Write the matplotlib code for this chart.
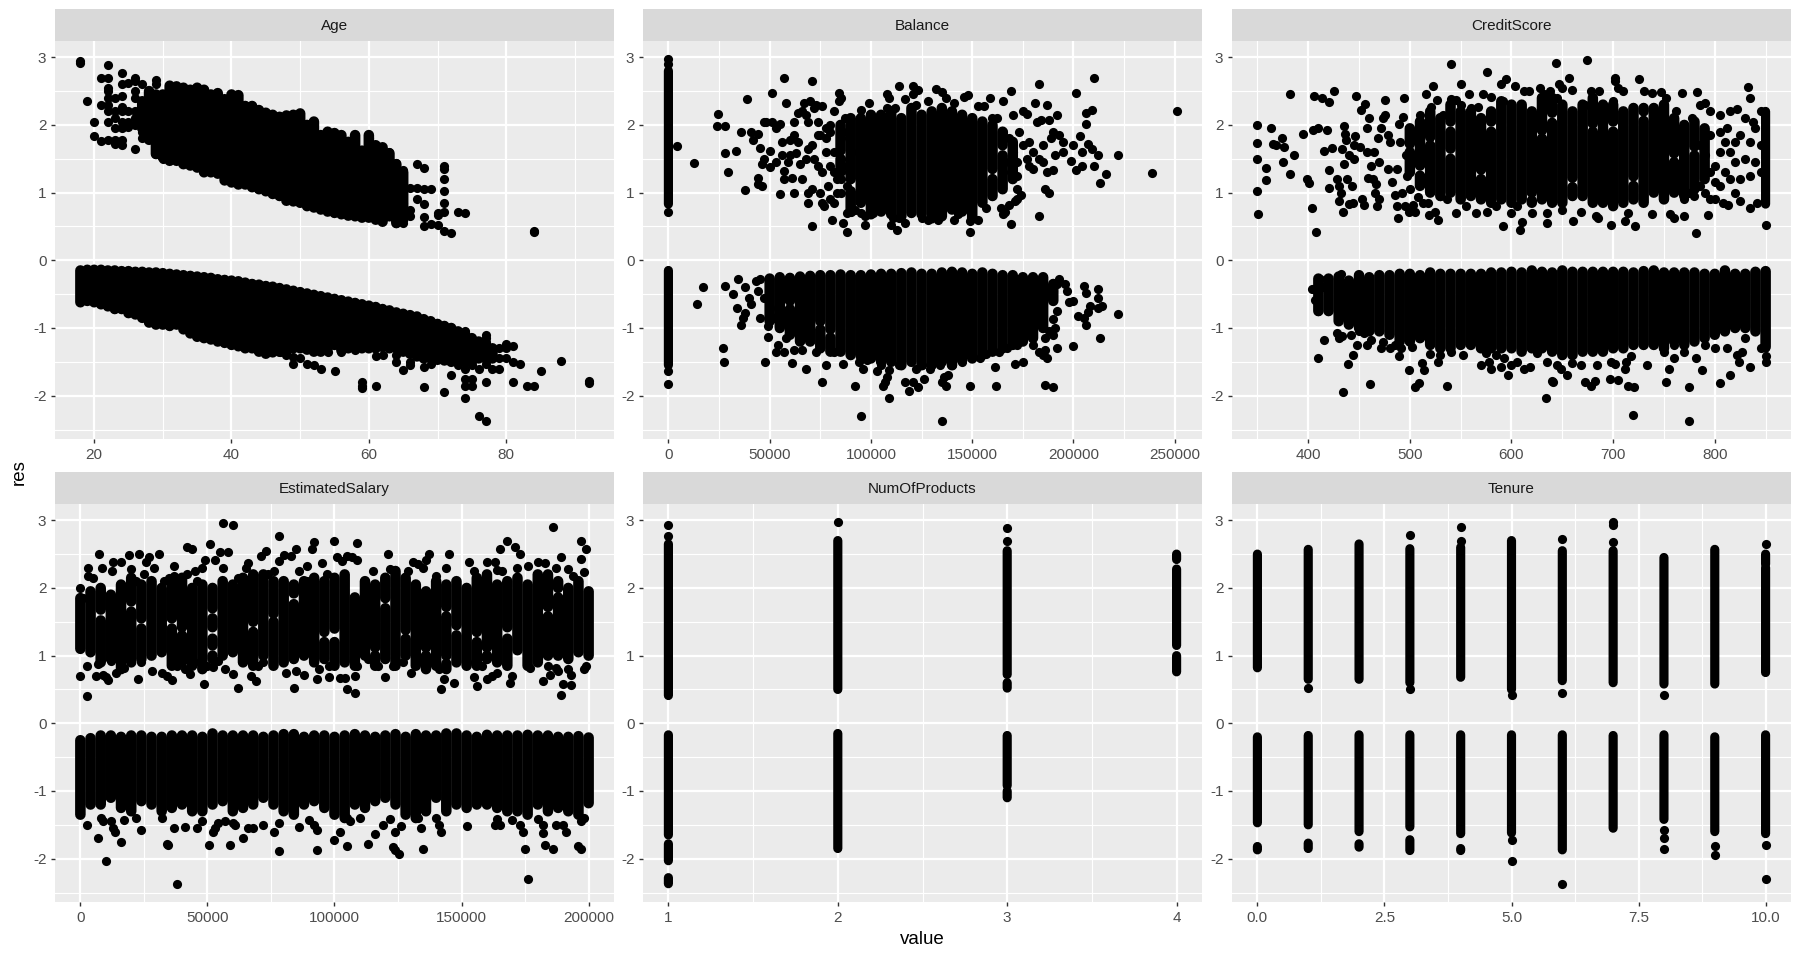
import matplotlib
matplotlib.use("Agg")
import matplotlib.pyplot as plt

plt.rcParams['font.family'] = ['Liberation Sans', 'DejaVu Sans']

# Values. The overplotted black masses can't be told apart
# as single points, so they are kept as columns of stacked points (x, top, bottom)
# with the visible holes listed as gaps; the rest are listed one by one.

panel_names = ["Age", "Balance", "CreditScore", "EstimatedSalary", "NumOfProducts", "Tenure"]

# ---- Age
age_up_x = list(range(27, 66))
age_up_hi = [2.35, 2.5, 2.45, 2.45, 2.58, 2.57, 2.55, 2.52, 2.55, 2.52, 2.45, 2.47, 2.38, 2.45, 2.44, 2.28, 2.28, 2.22,
             2.18, 2.15, 2.12, 2.14, 2.15, 2.17, 2.0, 2.05, 1.85, 1.9, 1.88, 1.85, 1.75, 1.85, 1.62, 1.85, 1.7, 1.67,
             1.58, 1.42, 1.3]
age_up_lo = [1.95, 1.78, 1.57, 1.52, 1.47, 1.47, 1.42, 1.4, 1.37, 1.3, 1.3, 1.28, 1.18, 1.15, 1.12, 1.12, 1.08, 1.05,
             1.02, 0.98, 0.95, 0.88, 0.87, 0.85, 0.8, 0.78, 0.75, 0.72, 0.7, 0.68, 0.66, 0.65, 0.63, 0.63, 0.6, 0.57,
             0.65, 0.55, 0.6]
age_up_gaps = [(29, 2.37, 2.43), (27, 2.17, 2.23), (27, 1.97, 2.03), (31, 1.77, 1.83), (30, 1.57, 1.63), (32, 1.53, 1.59),
               (35, 1.43, 1.49), (36, 1.4, 1.46), (41, 1.21, 1.27), (52, 1.58, 1.7), (59, 1.38, 1.46), (59, 1.12, 1.22),
               (50, 0.95, 1.01), (57, 0.99, 1.05), (49, 1.49, 1.55), (60, 0.7, 0.76), (62, 0.67, 0.73), (53, 0.9, 0.96)]
age_low_x = list(range(18, 79))
age_low_hi = [-0.15, -0.14, -0.14, -0.14, -0.15, -0.15, -0.16, -0.16, -0.17, -0.17, -0.18, -0.18, -0.19, -0.2, -0.21,
              -0.22, -0.23, -0.24, -0.25, -0.26, -0.28, -0.29, -0.3, -0.31, -0.33, -0.35, -0.36, -0.38, -0.39, -0.41,
              -0.43, -0.45, -0.47, -0.49, -0.51, -0.53, -0.55, -0.57, -0.59, -0.61, -0.63, -0.65, -0.67, -0.69, -0.72,
              -0.74, -0.77, -0.79, -0.81, -0.83, -0.87, -0.9, -0.94, -0.97, -1.0, -1.05, -1.08, -1.15, -1.2, -1.25, -1.3]
age_low_lo = [-0.62, -0.6, -0.62, -0.65, -0.68, -0.72, -0.72, -0.78, -0.8, -0.85, -0.92, -0.95, -0.95, -0.97, -0.95,
              -1.02, -1.08, -1.13, -1.15, -1.17, -1.2, -1.22, -1.25, -1.27, -1.3, -1.3, -1.35, -1.38, -1.36, -1.35,
              -1.35, -1.3, -1.3, -1.32, -1.35, -1.35, -1.3, -1.25, -1.33, -1.3, -1.3, -1.3, -1.3, -1.3, -1.28, -1.3,
              -1.3, -1.35, -1.38, -1.42, -1.45, -1.45, -1.47, -1.48, -1.5, -1.5, -1.5, -1.5, -1.45, -1.45, -1.45]
age_low_gaps = [(56, -1.01, -0.95), (57, -1.13, -1.07), (59, -1.23, -1.17), (54, -1.23, -1.17), (60, -0.99, -0.93),
                (68, -1.21, -1.15), (45, -1.23, -1.17), (40, -1.06, -1.0)]
age_pts = [(18, 2.95), (18, 2.92), (22, 2.89), (24, 2.77), (21, 2.7), (22, 2.7), (26, 2.7), (26, 2.65), (29, 2.67),
           (29, 2.6), (22, 2.55), (22, 2.5), (24, 2.6), (25, 2.62), (27, 2.6), (28, 2.5), (26, 2.5), (26, 2.4),
           (22, 2.4), (23, 2.4), (24, 2.43), (19, 2.35), (21, 2.3), (22, 2.3), (22, 2.2), (24, 2.27), (24, 2.2),
           (23, 2.2), (25, 2.2), (20, 2.05), (22, 2.05), (23, 2.1), (24, 2.05), (25, 2.05), (26, 2.1), (23, 1.95),
           (24, 1.95), (25, 1.97), (20, 1.83), (21, 1.77), (22, 1.78), (23, 1.78), (24, 1.78), (23, 1.72), (24, 1.7),
           (26, 1.64), (27, 1.8), (27, 1.9), (26, 2.2), (26, 2.0), (28, 2.2), (29, 1.57), (30, 1.5),
           (60, 1.8), (60, 1.72), (63, 1.6), (64, 1.44), (65, 1.33), (67, 1.42), (68, 1.37), (71, 1.4),
           (71, 1.35), (71, 1.2), (71, 1.03), (69, 1.05), (68, 1.05), (67, 1.07), (66, 1.07), (65, 1.07), (71, 0.85),
           (68, 0.83), (67, 0.9), (66, 0.75), (66, 0.65), (65, 0.85), (65, 0.55), (64, 0.55), (68, 0.64), (68, 0.5),
           (69, 0.53), (70, 0.52), (71, 0.44), (72, 0.41), (70, 0.67), (70, 0.7), (71, 0.71), (73, 0.72), (74, 0.7),
           (84, 0.42), (84, 0.43),
           (74, -1.05), (77, -1.1), (77, -1.15), (77, -1.2), (77, -1.25), (80, -1.23), (81, -1.27), (79, -1.3),
           (80, -1.3), (78, -1.35), (79, -1.45), (80, -1.45), (81, -1.5), (82, -1.53), (88, -1.49), (85, -1.63),
           (92, -1.78), (92, -1.82), (81, -1.8), (83, -1.86), (84, -1.86), (77, -1.8), (75, -1.75), (75, -1.85),
           (74, -1.75), (74, -1.85), (74, -2.03), (72, -1.7), (71, -1.94), (68, -1.87), (61, -1.85), (59, -1.8),
           (59, -1.85), (59, -1.88), (76, -2.3), (77, -2.37), (55, -1.63), (53, -1.6), (52, -1.55), (51, -1.53),
           (49, -1.53), (49, -1.43), (50, -1.45), (48, -1.4), (47, -1.35), (54, -1.35), (56, -1.35), (58, -1.33),
           (61, -1.42), (62, -1.4), (64, -1.5), (64, -1.4), (65, -1.62), (66, -1.5), (66, -1.55), (68, -1.57),
           (69, -1.53), (73, -1.55), (74, -1.6), (75, -1.55), (76, -1.6), (77, -1.53), (78, -1.6), (79, -1.6)]

# ---- Balance (x in thousands)
bal_up_x = [85, 90, 95, 100, 105, 110, 115, 120, 125, 130, 135, 140, 145, 150, 155, 160, 165, 170]
bal_up_hi = [2.0, 2.1, 2.1, 2.15, 2.15, 2.2, 2.1, 2.25, 2.15, 2.2, 2.25, 2.2, 2.15, 2.1, 2.05, 2.0, 1.9, 1.75]
bal_up_lo = [1.3, 0.72, 0.85, 0.68, 0.72, 0.68, 0.65, 0.7, 0.68, 0.62, 0.65, 0.75, 0.72, 0.62, 0.85, 0.95, 1.05, 1.2]
bal_up_gaps = [(90, 1.02, 1.2), (85, 1.5, 1.62), (160, 1.2, 1.35), (165, 1.55, 1.7)]
bal_low_x = [50, 55, 60, 65, 70, 75, 80, 85, 90, 95, 100, 105, 110, 115, 120, 125, 130, 135, 140, 145, 150, 155, 160,
             165, 170, 175, 180, 185, 190]
bal_low_hi = [-0.27, -0.25, -0.26, -0.24, -0.23, -0.22, -0.22, -0.21, -0.22, -0.22, -0.21, -0.2, -0.2, -0.19, -0.18,
              -0.2, -0.2, -0.18, -0.17, -0.18, -0.2, -0.18, -0.2, -0.22, -0.22, -0.25, -0.25, -0.25, -0.35]
bal_low_lo = [-0.9, -1.0, -1.1, -1.2, -1.2, -1.3, -1.35, -1.35, -1.4, -1.42, -1.45, -1.5, -1.5, -1.55, -1.5, -1.55,
              -1.55, -1.5, -1.55, -1.48, -1.45, -1.4, -1.35, -1.3, -1.25, -1.2, -1.15, -1.0, -0.6]
bal_low_gaps = [(75, -1.02, -0.9), (80, -1.14, -1.02), (60, -0.72, -0.6)]
bal_zero_runs = [(2.8, 0.83), (-0.15, -1.55)]
bal_pts = [(0, 2.97), (0, 2.9), (0, 0.71), (4, 1.69), (0, -1.63), (0, -1.83),
           (12.5, 1.44), (24, 1.98), (24.5, 2.16), (28, 1.98), (28, 1.58), (29.5, 1.31), (33.5, 1.62), (36, 1.9),
           (38, 1.04), (39, 2.38), (41, 1.9), (42, 1.78), (44, 1.87), (44, 1.22), (45, 1.66), (44, 1.12), (46, 1.1),
           (46, 1.42), (47, 1.5), (47, 2.04), (48, 2.05), (50, 1.38), (50, 1.62), (51, 2.05), (51, 2.47), (53, 1.95),
           (53, 1.45), (55, 2.02), (55, 0.98), (56, 1.75), (56, 1.55), (57, 1.2), (57, 1.32), (57, 2.7), (58, 2.33),
           (59, 1.45), (60, 1.78), (60, 1.55), (61, 1.22), (62, 1.85), (62, 2.05), (62, 1.0), (63, 1.58), (64, 1.75),
           (64, 2.18), (65, 1.42), (66, 2.2), (66, 1.2), (67, 2.32), (68, 1.5), (68, 2.15), (69, 1.65), (69, 2.05),
           (70, 2.36), (69, 0.85), (69, 1.0), (71, 1.05), (71, 0.5), (71, 2.65), (71, 1.7), (72, 2.25), (73, 2.3),
           (74, 1.85), (74, 2.05), (75, 1.0), (75, 1.85), (76, 0.85), (77, 0.8), (76, 2.28), (78, 1.8), (78, 1.6),
           (79, 1.1), (80, 1.4), (80, 0.9), (81, 0.6), (82, 0.85), (83, 1.0), (83, 1.2), (84, 2.35), (84, 2.47),
           (85, 2.4), (86, 0.55), (88, 0.42), (88, 0.7), (89, 1.3), (90, 0.72), (92, 0.74), (95, 0.7), (97, 0.52),
           (97, 0.66), (95, 2.22), (99, 2.33), (101, 0.7), (108, 2.45), (109, 2.4), (108, 2.25), (112, 2.25),
           (110, 0.52), (111, 0.62), (114, 0.62), (113, 0.45), (114, 2.58), (117, 0.55), (117, 2.38), (121, 2.58),
           (121, 2.45), (123, 2.52), (122, 2.3), (125, 0.62), (128, 0.6), (128, 2.36), (132, 2.53), (133, 0.6),
           (135, 2.48), (137, 2.4), (141, 2.32), (141, 0.6), (143, 0.68), (146, 2.42), (148, 2.44), (149, 0.42),
           (149, 0.58), (150, 0.65), (153, 2.28), (153, 0.6), (156, 2.28), (157, 0.77), (159, 2.4), (160, 2.1),
           (162, 2.1), (164, 0.78), (165, 0.68), (165, 2.35), (166, 0.72), (168, 0.82), (169, 2.5), (169, 0.53),
           (170, 2.14), (171, 0.88), (172, 0.9), (172, 1.05), (172, 1.25), (173, 1.9), (174, 0.97), (175, 2.2),
           (177, 2.16), (178, 1.75), (180, 1.35), (181, 2.33), (182, 2.05), (183, 2.6), (183, 0.65), (184, 2.08),
           (185, 1.7), (186, 1.05), (187, 2.3), (187, 1.3), (188, 1.0), (188, 2.07), (189, 1.8), (190, 1.33),
           (190, 1.9), (191, 1.55), (192, 2.15), (193, 1.85), (195, 1.6), (195, 1.75), (199, 1.47), (200, 1.7),
           (201, 1.33), (201, 2.47), (203, 1.83), (204, 1.4), (204, 1.6), (206, 2.17), (206, 2.02), (207, 1.72),
           (209, 2.22), (209, 1.65), (210, 1.4), (210, 2.69), (212, 1.56), (213, 1.14), (216, 1.28), (222, 1.56),
           (239, 1.29), (251, 2.21), (165, 1.9), (168, 1.8), (170, 1.6), (172, 1.45), (175, 1.7), (177, 1.5),
           (180, 1.6), (183, 1.5), (178, 1.4), (168, 1.45), (170, 1.3), (165, 1.3), (185, 1.45), (82, 1.6), (85, 1.5),
           (80, 1.9), (85, 1.8), (87, 2.1), (80, 2.0), (82, 2.2), (88, 1.9), (85, 1.2), (85, 1.0), (88, 1.1),
           (88, 1.4), (78, 1.95), (76, 1.3), (74, 1.4), (72, 1.5), (90, 1.6), (82, 1.3),
           (14, -0.64), (17, -0.4), (28, -0.38), (27, -1.29), (27.5, -1.5), (32, -0.5), (34.5, -0.28), (34, -0.7),
           (36, -0.95), (37, -0.85), (38, -0.78), (38, -0.4), (40, -0.55), (41, -0.65), (43, -0.3), (44, -0.45),
           (45, -0.27), (45, -0.85), (47, -0.55), (47.5, -1.5), (49, -0.97), (49, -1.14), (50, -0.7), (52, -0.85),
           (53, -1.35), (54, -1.25), (57, -1.35), (58, -1.15), (61, -1.52), (62, -1.32), (66, -1.32), (68, -1.6),
           (73, -1.35), (76, -1.8), (78, -1.55), (82, -1.35), (86, -1.53), (92, -1.86), (94, -1.5), (96, -1.6),
           (98, -1.47), (103, -1.63), (105, -1.55), (106, -1.85), (107, -1.8), (108, -1.72), (109, -1.62), (109, -2.03),
           (114, -1.55), (117, -1.8), (119, -1.93), (121, -1.8), (122, -1.6), (123, -1.87), (125, -1.55), (126, -1.75),
           (129, -1.6), (134, -1.55), (135, -1.8), (136, -1.72), (137, -1.85), (138, -1.7), (140, -1.55), (95, -2.3),
           (135, -2.37), (145, -1.5), (149, -1.85), (154, -1.45), (157, -1.38), (161, -1.58), (161.5, -1.85),
           (163, -1.35), (167, -1.3), (171, -1.53), (175, -1.5), (172, -1.25), (180, -1.25), (183, -1.35), (185, -1.4),
           (187, -1.45), (186, -1.32), (186, -1.84), (190, -1.87), (192, -1.29), (200, -1.26), (213, -1.15),
           (186, -1.15), (188, -1.05), (190, -1.1), (191, -1.0), (190, -0.87), (192, -0.75), (188, -0.5), (190, -0.45),
           (193, -0.28), (192, -0.35), (196, -0.35), (197, -0.45), (198, -0.62), (200, -0.6), (202, -0.83),
           (205, -0.85), (205, -0.38), (206, -0.48), (206, -0.95), (207, -0.77), (208, -0.68), (212, -0.42),
           (212, -0.55), (212, -0.7), (214, -0.68), (222, -0.79)]

# ---- CreditScore
cs_up_x = list(range(500, 800, 10))
cs_up_hi = [1.95, 2.05, 2.2, 2.1, 2.3, 2.2, 2.2, 2.1, 2.2, 2.35, 2.3, 2.3, 2.2, 2.4, 2.4, 2.3, 2.2, 2.3, 2.4, 2.3, 2.3,
            2.2, 2.25, 2.25, 2.25, 2.3, 2.1, 2.0, 2.05, 1.95]
cs_up_lo = [1.3, 1.1, 1.0, 0.95, 1.0, 0.9, 0.95, 0.9, 0.85, 0.9, 0.85, 0.9, 0.85, 0.9, 0.85, 0.85, 0.95, 0.95, 0.85, 0.85,
            0.8, 0.85, 0.9, 0.85, 1.0, 0.9, 1.0, 0.95, 1.05, 1.2]
cs_up_gaps = [(540, 1.9, 2.05), (540, 1.5, 1.65), (510, 1.25, 1.4), (500, 1.6, 1.72), (580, 1.9, 2.05), (640, 2.03, 2.18),
              (700, 1.9, 2.05), (730, 2.06, 2.2), (660, 1.08, 1.22), (620, 0.88, 1.0), (680, 1.9, 2.02), (630, 1.8, 1.92),
              (720, 1.1, 1.24), (570, 1.2, 1.34), (760, 1.45, 1.58), (780, 1.55, 1.68), (520, 1.7, 1.82)]
cs_low_x = list(range(410, 860, 10))
cs_low_hi = [-0.27, -0.27, -0.24, -0.3, -0.22, -0.25, -0.22, -0.22, -0.2, -0.2, -0.22, -0.18, -0.2, -0.2, -0.2, -0.2,
             -0.2, -0.18, -0.18, -0.17, -0.18, -0.15, -0.17, -0.18, -0.15, -0.17, -0.17, -0.17, -0.17, -0.17, -0.17,
             -0.18, -0.16, -0.15, -0.18, -0.18, -0.18, -0.18, -0.2, -0.2, -0.15, -0.2, -0.2, -0.17, -0.16]
cs_low_lo = [-0.75, -0.75, -0.9, -0.95, -1.0, -1.05, -1.05, -1.1, -1.2, -1.2, -1.15, -1.25, -1.3, -1.3, -1.25, -1.25,
             -1.3, -1.3, -1.3, -1.3, -1.35, -1.3, -1.3, -1.35, -1.4, -1.4, -1.35, -1.35, -1.35, -1.3, -1.3, -1.25,
             -1.25, -1.25, -1.3, -1.2, -1.25, -1.2, -1.15, -1.1, -1.05, -1.0, -1.0, -1.05, -1.28]
cs_edge_runs = [(2.2, 0.83), (-0.17, -1.3)]
cs_pts = [(350, 2.0), (350, 1.73), (350, 1.49), (350, 1.02), (351, 0.68), (363, 1.95), (358, 1.36), (358, 1.18),
          (365, 1.72), (368, 1.71), (374, 1.81), (376, 1.67), (375, 1.45), (382, 1.28), (382, 2.45), (386, 1.55),
          (395, 1.86), (399, 1.2), (401, 1.14), (404, 0.78), (405, 1.92), (406, 2.43), (408, 0.42), (410, 1.95),
          (414, 2.4), (416, 1.62), (418, 1.93), (420, 2.34), (420, 1.34), (420, 1.07), (423, 1.66), (425, 2.5),
          (428, 1.2), (430, 1.1), (430, 0.88), (432, 1.0), (433, 1.65), (434, 0.72), (435, 1.42), (435, 1.98),
          (436, 1.87), (437, 1.78), (438, 1.2), (440, 1.55), (440, 0.83), (443, 1.1), (444, 0.85), (445, 1.5),
          (445, 1.7), (446, 1.83), (447, 2.43), (451, 1.67), (452, 2.22), (453, 0.9), (455, 0.81), (456, 2.31),
          (458, 1.6), (458, 1.95), (459, 1.22), (460, 2.1), (462, 1.4), (464, 1.2), (465, 1.6), (466, 1.0),
          (467, 1.12), (468, 0.8), (469, 1.8), (470, 0.9), (470, 1.45), (472, 1.95), (474, 2.1), (476, 2.37),
          (476, 2.15), (478, 1.35), (478, 1.85), (480, 1.75), (482, 1.15), (485, 0.97), (487, 1.35), (487, 0.8),
          (488, 0.63), (489, 2.02), (490, 1.75), (492, 1.0), (493, 2.12), (494, 2.4), (495, 0.8), (496, 1.55),
          (497, 1.25), (499, 0.72), (500, 1.05), (503, 0.82), (505, 0.72), (505, 1.85), (508, 0.93), (510, 2.15),
          (512, 1.15), (513, 0.85), (516, 2.45), (518, 0.85), (519, 0.67), (521, 2.27), (523, 2.58), (525, 0.72),
          (527, 2.37), (528, 0.6), (530, 0.95), (533, 2.15), (537, 0.9), (540, 2.38), (540, 2.9), (545, 0.7),
          (545, 2.37), (550, 2.6), (550, 2.3), (555, 0.8), (558, 2.45), (560, 2.25), (565, 0.7), (567, 2.27),
          (572, 2.45), (576, 2.78), (576, 0.72), (580, 2.42), (585, 0.8), (590, 2.6), (592, 2.35), (592, 0.51),
          (595, 2.68), (600, 0.7), (603, 2.58), (605, 0.8), (608, 0.45), (610, 0.57), (612, 2.5), (617, 2.5),
          (620, 0.7), (628, 2.55), (632, 2.45), (635, 0.55), (635, 0.7), (638, 2.5), (644, 2.92), (645, 2.4),
          (647, 2.6), (650, 2.55), (650, 0.75), (657, 2.7), (660, 2.52), (661, 0.58), (668, 0.72), (672, 2.3),
          (674, 2.96), (678, 2.5), (683, 0.65), (685, 0.62), (686, 2.5), (698, 0.52), (700, 2.35), (702, 2.7),
          (702, 2.65), (705, 2.55), (710, 2.5), (712, 0.58), (715, 0.7), (722, 0.5), (725, 2.68), (730, 2.5),
          (738, 0.68), (738, 2.47), (747, 2.48), (752, 2.4), (756, 0.68), (760, 0.62), (762, 2.2), (768, 2.47),
          (770, 0.65), (778, 2.1), (782, 0.41), (783, 2.48), (785, 2.3), (790, 2.33), (793, 0.67), (795, 2.2),
          (805, 2.15), (808, 0.85), (812, 1.95), (813, 0.82), (815, 2.2), (822, 2.23), (825, 0.87), (830, 2.1),
          (833, 2.56), (835, 2.4), (835, 0.78), (838, 2.05), (842, 0.85), (845, 2.2), (850, 0.52),
          (790, 1.0), (795, 0.9), (800, 1.15), (800, 1.4), (795, 1.3), (805, 1.6), (805, 1.9), (810, 1.3), (815, 1.6),
          (815, 1.2), (820, 1.0), (820, 1.45), (825, 1.85), (825, 1.2), (830, 1.5), (835, 1.25), (835, 1.75),
          (840, 1.45), (840, 1.95), (845, 1.3), (845, 1.7), (785, 1.1), (785, 1.7), (790, 1.55), (795, 1.85),
          (780, 0.95), (770, 0.9), (775, 1.0), (810, 1.75), (820, 1.75), (800, 0.9), (805, 1.1),
          (404, -0.43), (407, -0.58), (410, -0.75), (412, -0.27), (415, -0.4), (432, -0.2), (428, -1.07), (430, -1.15),
          (433, -1.12), (416, -1.17), (410, -1.44), (434, -1.94), (439, -1.53), (444, -1.4), (442, -1.1), (448, -1.25),
          (450, -1.05), (455, -1.07), (458, -1.25), (461, -1.83), (462, -1.17), (472, -1.3), (474, -1.2), (480, -1.3),
          (485, -1.25), (489, -1.42), (491, -1.3), (499, -1.62), (502, -1.28), (505, -1.87), (509, -1.82), (512, -1.52),
          (514, -1.62), (520, -1.38), (528, -1.5), (530, -1.4), (537, -1.86), (540, -1.35), (552, -1.4), (570, -1.55),
          (575, -1.37), (578, -1.5), (580, -1.6), (585, -1.4), (590, -1.57), (593, -1.45), (597, -1.7), (600, -1.55),
          (605, -1.5), (612, -1.6), (618, -1.57), (625, -1.37), (634, -2.03), (635, -1.5), (640, -1.78), (641, -1.8),
          (645, -1.55), (649, -1.6), (655, -1.7), (660, -1.52), (668, -1.55), (672, -1.8), (678, -1.85), (682, -1.78),
          (684, -1.55), (697, -1.75), (698, -1.5), (702, -1.53), (705, -1.77), (712, -1.6), (713, -1.5), (715, -1.85),
          (718, -1.42), (720, -2.29), (721, -1.87), (733, -1.55), (752, -1.8), (755, -1.6), (760, -1.45), (775, -1.87),
          (775, -2.37), (782, -1.45), (787, -1.62), (805, -1.82), (815, -1.7), (822, -1.4), (824, -1.5), (827, -1.35),
          (830, -1.15), (835, -1.57), (812, -1.3), (845, -1.3), (850, -1.42), (850, -1.5), (800, -1.3), (790, -1.25),
          (770, -1.35), (760, -1.25), (750, -1.35)]

# ---- EstimatedSalary (x in thousands)
sal_x = list(range(0, 204, 4))
sal_up_hi = [1.85, 1.95, 2.0, 1.9, 2.05, 2.15, 2.05, 2.1, 2.0, 2.1, 2.15, 2.0, 2.05, 2.0, 2.1, 2.05, 2.15, 2.2, 2.2, 2.1,
             2.1, 2.05, 2.1, 2.15, 2.1, 2.15, 2.2, 2.0, 2.1, 2.05, 2.15, 2.25, 2.15, 2.05, 1.95, 2.1, 2.05, 2.1, 2.0, 2.15,
             2.2, 2.05, 2.1, 2.15, 2.05, 2.2, 2.2, 2.1, 2.0, 2.1, 1.95]
sal_up_lo = [1.1, 1.05, 0.9, 0.95, 0.8, 0.9, 0.95, 1.0, 1.05, 0.85, 0.9, 0.85, 0.8, 0.95, 1.0, 1.05, 0.9, 0.85, 1.0, 0.85,
             0.9, 0.95, 1.0, 0.9, 0.95, 0.85, 0.9, 0.85, 1.0, 0.85, 0.95, 0.85, 1.0, 0.85, 0.8, 0.85, 0.8, 0.9, 0.85, 0.85,
             0.95, 0.9, 0.85, 0.95, 0.85, 0.9, 1.0, 1.0, 0.95, 1.05, 1.0]
sal_up_gaps = [(8, 1.52, 1.68), (20, 1.65, 1.8), (24, 1.4, 1.55), (36, 1.4, 1.55), (52, 1.25, 1.42), (52, 1.55, 1.7),
               (52, 1.0, 1.15), (68, 1.35, 1.5), (84, 1.76, 1.92), (96, 1.2, 1.35), (100, 1.2, 1.4), (108, 1.86, 2.0),
               (116, 1.0, 1.12), (120, 1.7, 1.85), (136, 1.0, 1.12), (144, 1.58, 1.72), (144, 0.88, 1.0), (156, 1.2, 1.35),
               (168, 1.25, 1.42), (172, 0.95, 1.08), (184, 1.58, 1.72), (188, 1.86, 2.0), (40, 1.3, 1.42), (76, 1.5, 1.62),
               (128, 1.25, 1.38), (148, 1.3, 1.45), (160, 1.0, 1.12)]
sal_low_hi = [-0.25, -0.22, -0.18, -0.18, -0.2, -0.18, -0.18, -0.2, -0.2, -0.18, -0.18, -0.18, -0.2, -0.15, -0.18, -0.18,
              -0.18, -0.18, -0.2, -0.18, -0.16, -0.16, -0.2, -0.18, -0.18, -0.2, -0.18, -0.16, -0.18, -0.2, -0.18, -0.16,
              -0.2, -0.16, -0.18, -0.18, -0.15, -0.15, -0.18, -0.2, -0.17, -0.18, -0.18, -0.18, -0.17, -0.18, -0.18, -0.2,
              -0.2, -0.19, -0.21]
sal_low_lo = [-1.35, -1.2, -1.2, -1.1, -1.25, -1.3, -1.15, -1.2, -1.3, -1.25, -1.2, -1.3, -1.3, -1.2, -1.15, -1.3, -1.25,
              -1.2, -1.1, -1.2, -1.3, -1.35, -1.2, -1.15, -1.25, -1.35, -1.4, -1.2, -1.25, -1.15, -1.1, -1.2, -1.35, -1.4,
              -1.3, -1.1, -1.3, -1.2, -1.25, -1.2, -1.2, -1.25, -1.3, -1.3, -1.35, -1.2, -1.3, -1.25, -1.3, -1.35, -1.18]
sal_pts = [(0, 0.7), (2.5, 0.41), (0, 2.0), (1, 1.85), (3, 2.17),
           (2.5, 0.85), (3, 2.29), (5, 2.15), (6, 0.7), (7, 0.88), (7.5, 2.5), (8.5, 2.3), (9, 0.72),
           (10, 0.68), (11, 0.64), (12, 0.92), (12.5, 2.25), (13, 2.39), (14, 0.74), (15, 0.95), (16, 2.38), (17, 0.82),
           (18, 1.05), (19, 2.48), (20, 2.28), (22, 2.1), (22.5, 0.66), (23, 2.5), (24, 0.9), (25, 2.2), (26, 2.38),
           (27, 2.45), (28, 0.78), (29, 2.3), (31, 2.5), (32, 0.75), (33, 2.1), (34, 0.7), (35, 2.15), (36, 0.64),
           (37, 2.33), (37, 2.18), (38, 0.85), (39, 0.95), (41, 0.8), (42, 2.2), (42, 2.6), (43, 0.73), (44, 2.57),
           (45, 2.25), (46, 2.1), (47, 0.9), (48, 2.3), (48.5, 0.58), (49, 2.42), (50, 0.85), (51, 2.65), (52, 0.83),
           (53, 2.42), (54, 0.92), (55, 2.53), (56, 2.3), (57, 0.8), (58, 2.53), (60, 0.73), (62, 0.52), (62, 2.15),
           (65, 2.3), (66, 2.37), (67, 0.7), (68, 2.2), (69, 0.62), (70, 0.85), (71, 2.47), (73, 2.55), (72, 0.9),
           (74, 2.2), (76, 2.25), (78, 2.77), (78, 2.4), (80, 2.48), (81, 0.75), (83, 2.47), (84, 0.52), (85, 0.78),
           (85, 2.58), (86, 2.25), (88, 0.72), (89, 2.33), (89, 2.1), (91, 2.58), (92, 2.68), (93, 0.65), (94, 0.8),
           (95, 2.37), (97, 2.2), (98, 0.85), (98, 0.68), (100, 2.7), (101, 2.45), (102, 0.67), (103, 2.4), (104, 0.67),
           (105, 2.47), (105, 0.5), (107, 2.45), (108, 0.45), (108, 0.7), (109, 2.66), (109, 2.42), (109, 0.85),
           (113, 0.95), (115, 2.25), (117, 0.85), (120, 0.68), (121, 2.5), (122, 2.28), (123, 0.85), (127, 0.9),
           (129, 2.25), (130, 0.75), (131, 2.38), (133, 2.35), (135, 2.3), (136, 2.42), (137, 2.5), (140, 2.17),
           (141, 0.8), (142, 0.5), (143, 0.65), (144, 2.3), (145, 2.5), (147, 0.6), (152, 0.9), (153, 2.38), (155, 0.69),
           (155, 2.25), (156, 0.55), (158, 2.1), (158, 0.85), (160, 2.38), (160, 0.65), (162, 0.7), (163, 2.38),
           (164, 0.75), (164, 2.27), (165, 2.57), (166, 2.25), (168, 2.7), (169, 0.6), (170, 0.7), (171, 2.6), (172, 2.3),
           (173, 2.5), (176, 2.33), (177, 0.82), (180, 2.38), (180, 0.95), (182, 0.62), (183, 2.37), (184, 0.85),
           (185, 0.72), (186, 2.9), (187, 2.3), (187, 0.82), (188, 0.78), (189, 0.42), (189, 2.45), (190, 0.58),
           (192, 2.28), (192, 0.8), (193, 0.72), (193, 0.57), (194, 2.18), (197, 2.7), (197, 2.43), (198, 0.8),
           (198, 2.23), (199, 2.58), (199, 0.85), (56, 2.96), (60, 2.93),
           (2.5, -1.5), (7, -1.7), (8, -1.4), (9, -1.45), (10, -2.03), (12, -1.45), (13, -1.55),
           (13.5, -1.6), (16, -1.75), (17, -1.43), (22, -1.4), (24, -1.57), (32, -1.4), (34, -1.78), (34.5, -1.8),
           (37, -1.55), (38, -2.37), (41, -1.53), (46, -1.55), (48, -1.45), (50.5, -1.8), (52, -1.6), (53, -1.55),
           (54, -1.48), (57, -1.45), (59, -1.8), (60, -1.48), (61, -1.5), (64, -1.7), (66, -1.55), (68, -1.55),
           (72, -1.5), (76, -1.6), (78, -1.88), (78, -1.47), (86, -1.53), (90, -1.43), (92, -1.5), (93, -1.87), (93, -1.57),
           (100, -1.72), (102, -1.6), (105, -1.82), (105, -1.4), (110, -1.4), (113, -1.78), (116, -1.63), (119, -1.5),
           (122, -1.42), (124, -1.6), (123, -1.83), (124, -1.87), (125.5, -1.93), (126, -1.52), (133, -1.4), (134, -1.55),
           (135, -1.85), (140, -1.4), (141, -1.5), (142, -1.6), (152, -1.52), (163, -1.5), (164, -1.42), (165, -1.5),
           (170, -1.43), (173, -1.5), (174, -1.6), (175, -1.86), (176, -2.3), (180, -1.42), (182, -1.5), (182, -1.62),
           (183, -1.8), (186, -1.86), (187, -1.5), (190, -1.5), (191, -1.6), (196, -1.82), (197, -1.45), (197, -1.85),
           (198, -1.4), (106, -1.45)]

# ---- NumOfProducts: stacked runs (x, top, bottom) and lone points
nop_runs = [(1, 2.65, 0.41), (1, -0.17, -1.65), (1, -1.78, -2.03), (1, -2.28, -2.37),
            (2, 2.7, 0.5), (2, -0.15, -1.85),
            (3, 2.55, 0.72), (3, 0.6, 0.52), (3, -0.18, -0.92), (3, -1.0, -1.1),
            (4, 2.5, 2.42), (4, 2.28, 1.15), (4, 1.0, 0.76)]
nop_pts = [(1, 2.93), (1, 2.77), (2, 2.97), (3, 2.89), (3, 2.7)]

# ---- Tenure
ten_runs = [(0, 2.5, 0.82), (0, -0.2, -1.47), (0, -1.82, -1.87),
            (1, 2.57, 0.65), (1, -0.18, -1.5), (1, -1.77, -1.85),
            (2, 2.65, 0.65), (2, -0.17, -1.6), (2, -1.78, -1.83),
            (3, 2.58, 0.6), (3, -0.17, -1.53), (3, -1.72, -1.88),
            (4, 2.6, 0.68), (4, -0.17, -1.63), (4, -1.85, -1.88),
            (5, 2.7, 0.5), (5, -0.17, -1.62),
            (6, 2.55, 0.63), (6, -0.17, -1.87),
            (7, 2.55, 0.6), (7, -0.18, -1.55),
            (8, 2.45, 0.58), (8, -0.17, -1.42),
            (9, 2.57, 0.58), (9, -0.2, -1.6),
            (10, 2.5, 2.35), (10, 2.3, 0.75), (10, -0.17, -1.63)]
ten_pts = [(1, 0.52), (3, 2.78), (3, 0.5), (4, 2.9), (4, 2.7), (5, 0.42), (5, -1.72), (5, -2.03), (6, 2.72), (6, 0.45),
           (6, -2.37), (7, 2.97), (7, 2.93), (7, 2.68), (8, 0.42), (8, -1.57), (8, -1.7), (8, -1.85), (9, -1.82),
           (9, -1.95), (10, 2.65), (10, -1.8), (10, -2.3)]

# ---- axes
y_ticks = [-2, -1, 0, 1, 2, 3]
y_labels = ["-2", "-1", "0", "1", "2", "3"]
y_minor = [-2.5, -1.5, -0.5, 0.5, 1.5, 2.5]
y_lim = (-2.64, 3.24)
x_limits = [(14.3, 95.7), (-12545, 263443), (325, 875), (-9988, 209991), (0.85, 4.15), (-0.5, 10.5)]
x_ticks = [[20, 40, 60, 80], [0, 50000, 100000, 150000, 200000, 250000], [400, 500, 600, 700, 800],
           [0, 50000, 100000, 150000, 200000], [1, 2, 3, 4], [0, 2.5, 5, 7.5, 10]]
x_labels = [["20", "40", "60", "80"], ["0", "50000", "100000", "150000", "200000", "250000"],
            ["400", "500", "600", "700", "800"], ["0", "50000", "100000", "150000", "200000"],
            ["1", "2", "3", "4"], ["0.0", "2.5", "5.0", "7.5", "10.0"]]
x_minor = [[30, 50, 70, 90], [25000, 75000, 125000, 175000, 225000], [350, 450, 550, 650, 750, 850],
           [25000, 75000, 125000, 175000], [1.5, 2.5, 3.5], [1.25, 3.75, 6.25, 8.75]]

W, H = 1800, 960
PT = 6.6  # point diameter in pt (about 9 px at dpi 100)
COL = 7.6  # a bit wider, so neighbouring columns close up
lefts = [55, 643, 1232]
tops = [41, 504]
PW, PH, STRIP = 559, 398, 32

fig = plt.figure(figsize=(W / 100, H / 100), dpi=100, facecolor='white')
axes = []
for i, name in enumerate(panel_names):
    l = lefts[i % 3]
    t = tops[i // 3]
    ax = fig.add_axes([l / W, 1 - (t + PH) / H, PW / W, PH / H], facecolor='#EBEBEB')
    st = fig.add_axes([l / W, 1 - t / H, PW / W, STRIP / H], facecolor='#D9D9D9')
    st.set_xticks([])
    st.set_yticks([])
    for s in st.spines.values():
        s.set_visible(False)
    st.text(0.5, 0.47, name, transform=st.transAxes, ha='center', va='center', fontsize=11, color='#1A1A1A')
    for s in ax.spines.values():
        s.set_visible(False)
    ax.set_xlim(x_limits[i])
    ax.set_ylim(y_lim)
    ax.set_xticks(x_ticks[i])
    ax.set_xticklabels(x_labels[i])
    ax.set_yticks(y_ticks)
    ax.set_yticklabels(y_labels)
    ax.set_xticks(x_minor[i], minor=True)
    ax.set_yticks(y_minor, minor=True)
    ax.tick_params(which='major', length=3.2, width=1.0, color='#333333', labelcolor='#4D4D4D', labelsize=11, pad=3)
    ax.tick_params(which='minor', length=0)
    ax.grid(which='major', color='white', lw=1.6)
    ax.grid(which='minor', color='white', lw=0.8)
    ax.set_axisbelow(True)
    axes.append(ax)


def columns(ax, xs, his, los, gaps=(), scale=1):
    # one stroke per column, cut where a gap is listed
    for x, hi, lo in zip(xs, his, los):
        cuts = sorted([g[1:] for g in gaps if g[0] == x], reverse=True)
        top = hi
        for g_lo, g_hi in cuts:
            ax.plot([x * scale, x * scale], [g_hi, top], color='black', lw=COL, solid_capstyle='round', zorder=3, snap=False)
            top = g_lo
        ax.plot([x * scale, x * scale], [lo, top], color='black', lw=COL, solid_capstyle='round', zorder=3, snap=False)


def points(ax, pts, scale=1):
    xs = [p[0] * scale for p in pts]
    ys = [p[1] for p in pts]
    ax.scatter(xs, ys, s=PT ** 2, c='black', linewidths=0, zorder=4)


def runs(ax, rr, scale=1):
    for x, top, bottom in rr:
        ax.plot([x * scale, x * scale], [bottom, top], color='black', lw=PT, solid_capstyle='round', zorder=3, snap=False)


columns(axes[0], age_up_x, age_up_hi, age_up_lo, age_up_gaps)
columns(axes[0], age_low_x, age_low_hi, age_low_lo, age_low_gaps)
points(axes[0], age_pts)

columns(axes[1], bal_up_x, bal_up_hi, bal_up_lo, bal_up_gaps, 1000)
columns(axes[1], bal_low_x, bal_low_hi, bal_low_lo, bal_low_gaps, 1000)
runs(axes[1], [(0, a, b) for a, b in bal_zero_runs])
points(axes[1], bal_pts, 1000)

columns(axes[2], cs_up_x, cs_up_hi, cs_up_lo, cs_up_gaps)
columns(axes[2], cs_low_x, cs_low_hi, cs_low_lo)
runs(axes[2], [(850, a, b) for a, b in cs_edge_runs])
points(axes[2], cs_pts)

columns(axes[3], sal_x, sal_up_hi, sal_up_lo, sal_up_gaps, 1000)
columns(axes[3], sal_x, sal_low_hi, sal_low_lo, (), 1000)
points(axes[3], sal_pts, 1000)

runs(axes[4], nop_runs)
points(axes[4], nop_pts)

runs(axes[5], ten_runs)
points(axes[5], ten_pts)

fig.text(19 / W, 1 - 472 / H, "res", rotation=90, ha='center', va='center', fontsize=13.5, color='black')
fig.text(922 / W, 1 - 939 / H, "value", ha='center', va='center', fontsize=13.5, color='black')

fig.savefig("out.png", dpi=100)
